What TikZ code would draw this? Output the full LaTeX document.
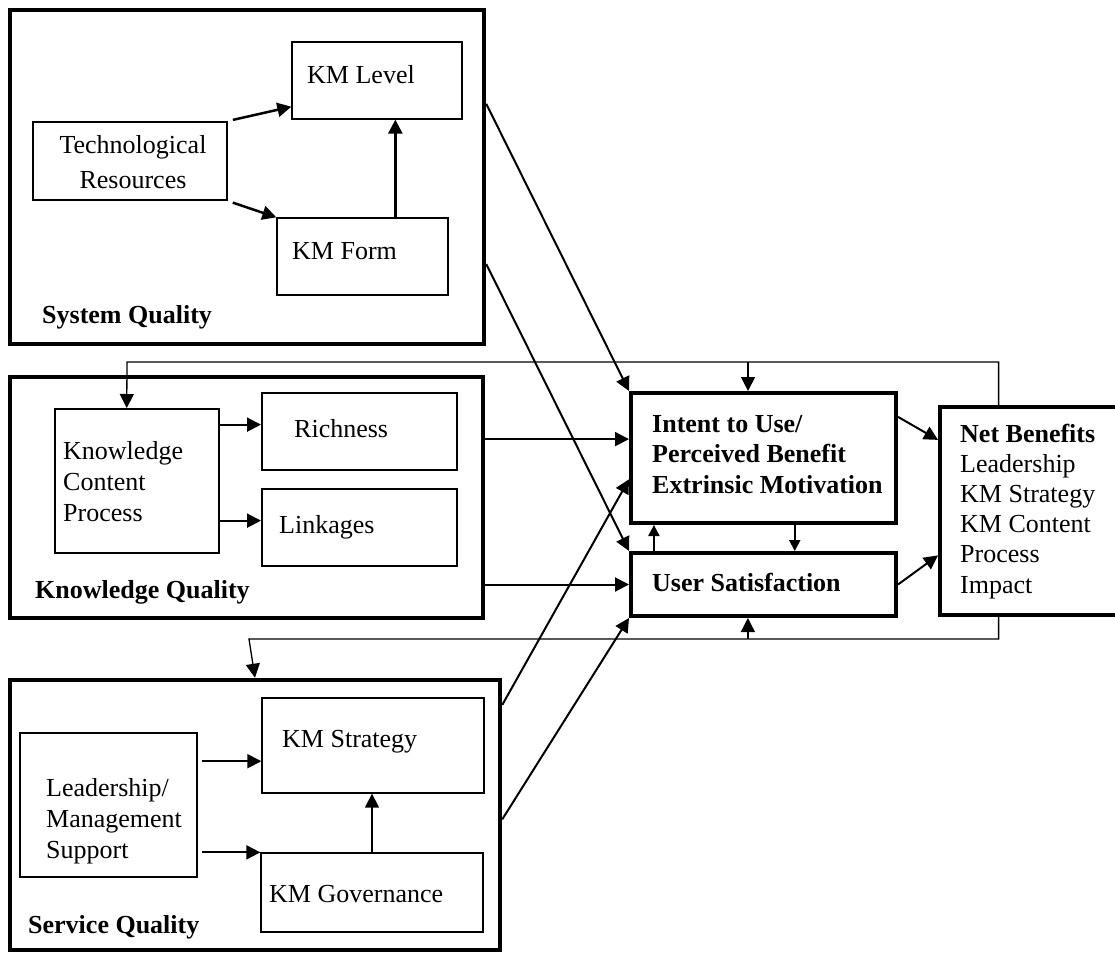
\documentclass[tikz,border=0pt]{standalone}
\usepackage{fontspec}
\setmainfont{Liberation Serif}
\usetikzlibrary{arrows.meta, calc}

\begin{document}
\begin{tikzpicture}[x=1pt, y=-1pt, font=\fontsize{26}{31}\selectfont,
  grp/.style={draw, line width=4.5pt, inner sep=0pt},
  box/.style={draw, line width=1.3pt, inner sep=0pt},
  key/.style={draw, line width=4pt, inner sep=0pt},
  txt/.style={inner sep=0pt, align=left, anchor=base west},
  arr/.style={-{Triangle[length=14pt,width=14pt]}, line width=2pt},
  fb/.style={line width=1.3pt}]
\useasboundingbox (0,0) rectangle (1115,953);
\node[grp, minimum width=474pt, minimum height=334pt] (sysq) at (247,177) {};
\node[grp, minimum width=473pt, minimum height=241pt] (knowq) at (246.5,497.5) {};
\node[grp, minimum width=490pt, minimum height=270pt] (servq) at (255,815) {};
\node[box, minimum width=170pt, minimum height=77pt] (lvl) at (377,80.5) {};
\node[box, line width=2pt, minimum width=194pt, minimum height=78pt] (tech) at (130,161) {};
\node[box, minimum width=171pt, minimum height=77pt] (form) at (362.5,256.5) {};
\node[box, line width=2pt, minimum width=164pt, minimum height=144pt] (kcp) at (137,481) {};
\node[box, line width=2pt, minimum width=195pt, minimum height=77pt] (rich) at (359.5,431.5) {};
\node[box, line width=2pt, minimum width=195pt, minimum height=77pt] (link) at (359.5,527.5) {};
\node[box, minimum width=222pt, minimum height=95pt] (strat) at (373,745.5) {};
\node[box, minimum width=177pt, minimum height=144pt] (lead) at (108.5,805) {};
\node[box, minimum width=222pt, minimum height=79pt] (gov) at (372,892.5) {};
\node[key, minimum width=265pt, minimum height=130pt] (intent) at (763.5,458) {};
\node[key, minimum width=265pt, minimum height=63pt] (usat) at (763.5,584.5) {};
\node[key, minimum width=178pt, minimum height=208pt] (net) at (1029,511) {};
\node[txt] (lvlt) at (307,83) {KM Level};
\node[txt] (formt) at (292,259) {KM Form};
\node[txt, anchor=base, align=center, font=\fontsize{26}{35}\selectfont] (techt) at (133,188) {Technological\\Resources};
\node[txt] (sysl) at (42,323) {\textbf{System Quality}};
\node[txt] (richt) at (294,437) {Richness};
\node[txt] (linkt) at (279,533) {Linkages};
\node[txt] (kcpt) at (63,521) {Knowledge\\Content\\Process};
\node[txt] (knowl) at (35,598) {\textbf{Knowledge Quality}};
\node[txt] (stratt) at (282,747) {KM Strategy};
\node[txt] (leadt) at (46,858) {Leadership/\\Management\\Support};
\node[txt] (govt) at (269,902) {KM Governance};
\node[txt] (servl) at (28,933) {\textbf{Service Quality}};
\node[txt, font=\fontsize{26}{30.5}\selectfont\bfseries] (intentt) at (652,493) {Intent to Use/\\Perceived Benefit\\Extrinsic Motivation};
\node[txt] (usatt) at (652,591) {\textbf{User Satisfaction}};
\node[txt, font=\fontsize{26}{30.2}\selectfont] (nett) at (960,593) {\textbf{Net Benefits}\\Leadership\\KM Strategy\\KM Content\\Process\\Impact};
\draw[arr, line width=2.5pt, shorten <=5pt] (tech.north east) -- (lvl.197);
\draw[arr, line width=2.5pt, shorten <=5pt] (tech.south east) -- (form.north west);
\draw[arr, line width=2.5pt] (form.50) -- (form.50 |- lvl.south);
\draw[arr] (rich.176 -| kcp.east) -- (rich.176);
\draw[arr] (link.176 -| kcp.east) -- (link.176);
\draw[arr, shorten <=4pt] (strat.188 -| lead.east) -- (strat.188);
\draw[arr, shorten <=4pt] (gov.north west -| lead.east) -- (gov.north west);
\draw[arr, line width=1.5pt] (gov.north) -- (gov.north |- strat.south);
\draw[arr] (sysq.17) -- (intent.north west);
\draw[arr] (sysq.-20) -- (usat.north west);
\draw[arr] (intent.172 -| knowq.east) -- (intent.172);
\draw[arr] (usat.west -| knowq.east) -- (usat.west);
\draw[arr] (servq.24) -- (intent.189);
\draw[arr] (servq.-1) -- (usat.south west);
\draw[arr] (intent.17) -- (net.142);
\draw[arr] (usat.east) -- (net.206);
\draw[arr, -{Triangle[length=11pt,width=11pt]}] (usat.163) -- (usat.163 |- intent.south);
\draw[arr, -{Triangle[length=11pt,width=11pt]}] (intent.-65) -- (intent.-65 |- usat.north);
\coordinate (fbt) at (127,362);
\coordinate (fbl) at (249,639);
\draw[fb, arr, line width=1.3pt] (net.106) |- (fbt) -- (kcp.98);
\draw[fb, arr, line width=1.3pt] (intent.103 |- fbt) -- (intent.103);
\draw[fb, arr, line width=1.3pt] (net.254) |- (fbl) -- (servq.north);
\draw[fb, arr, line width=1.3pt] (usat.245 |- fbl) -- (usat.245);
\end{tikzpicture}
\end{document}
